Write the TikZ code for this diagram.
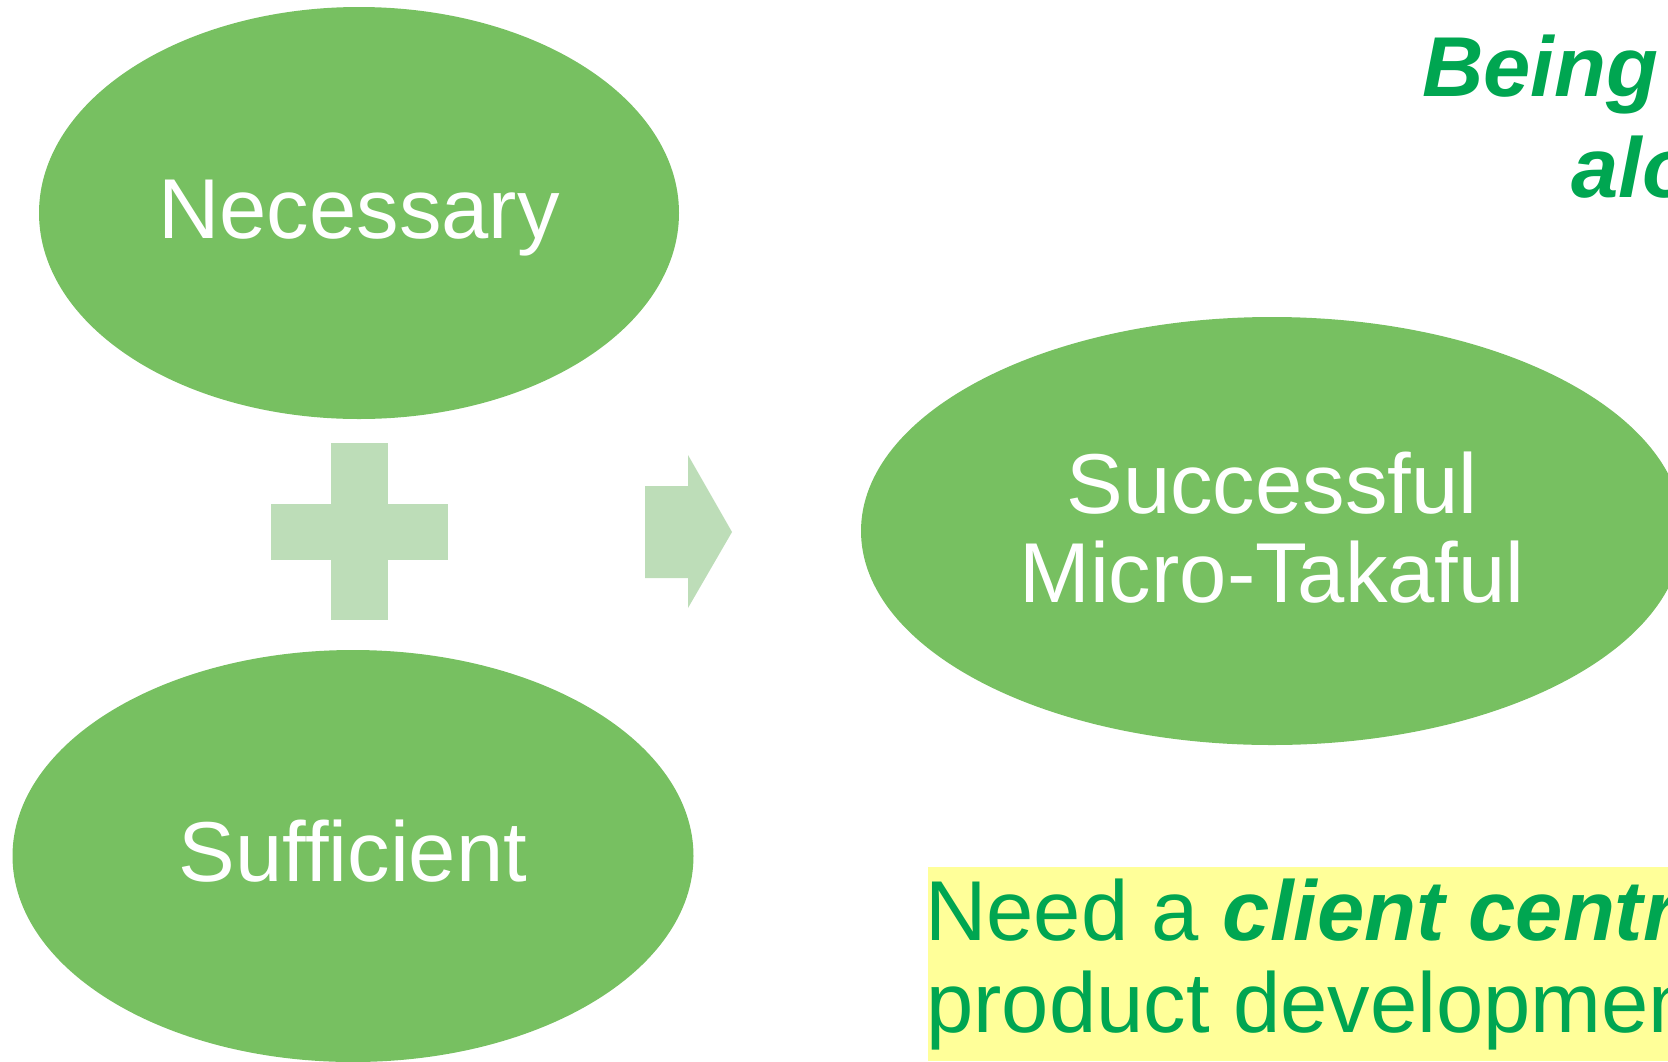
\documentclass[tikz,border=0pt]{standalone}
\usepackage{fontspec}
\setmainfont{Liberation Sans}
\usetikzlibrary{shapes.geometric}

\definecolor{leaf}{RGB}{119,192,97}
\definecolor{pale}{RGB}{189,221,184}
\definecolor{ink}{RGB}{0,166,81}
\definecolor{note}{RGB}{255,255,153}

\begin{document}
\begin{tikzpicture}[x=1pt,y=-1pt,
    blob/.style={ellipse,fill=leaf,inner sep=0pt,text=white,align=center,
      font=\fontsize{85}{89}\selectfont},
    big/.style={inner sep=0pt,anchor=base west,text=ink,
      font=\fontsize{85}{92}\selectfont}]
  \useasboundingbox (0,0) rectangle (1668,1061);
  \clip (0,0) rectangle (1668,1061);

  \node[blob,minimum width=640,minimum height=412,text depth=8pt] (nec) at (359,213) {Necessary};
  \node[blob,minimum width=681,minimum height=412,text depth=10pt] (suf) at (353,856) {Sufficient};
  \node[blob,minimum width=822,minimum height=428,text depth=7pt] (succ) at (1272,531) {Successful\\Micro-Takaful};

  %plus
  \fill[pale] (331,443) rectangle (388,620);
  \fill[pale] (271,504) rectangle (448,560);
  %arrow
  \fill[pale] (645,486) -- (688,486) -- (688,455) -- (732,532)
    -- (688,608) -- (688,578) -- (645,578) -- cycle;

  \node[big,font=\fontsize{85}{101}\selectfont\bfseries\itshape] (t1) at (1422,96) {Being};
  \node[big,font=\fontsize{85}{101}\selectfont\bfseries\itshape] (t2) at (1571,197) {alo};

  \fill[note] (928,867) rectangle (1668,1061);
  \node[big] (n1) at (925,940) {Need a \textbf{\textit{client centr}}};
  \node[big] (n2) at (926,1032) {product developmen};
\end{tikzpicture}
\end{document}
